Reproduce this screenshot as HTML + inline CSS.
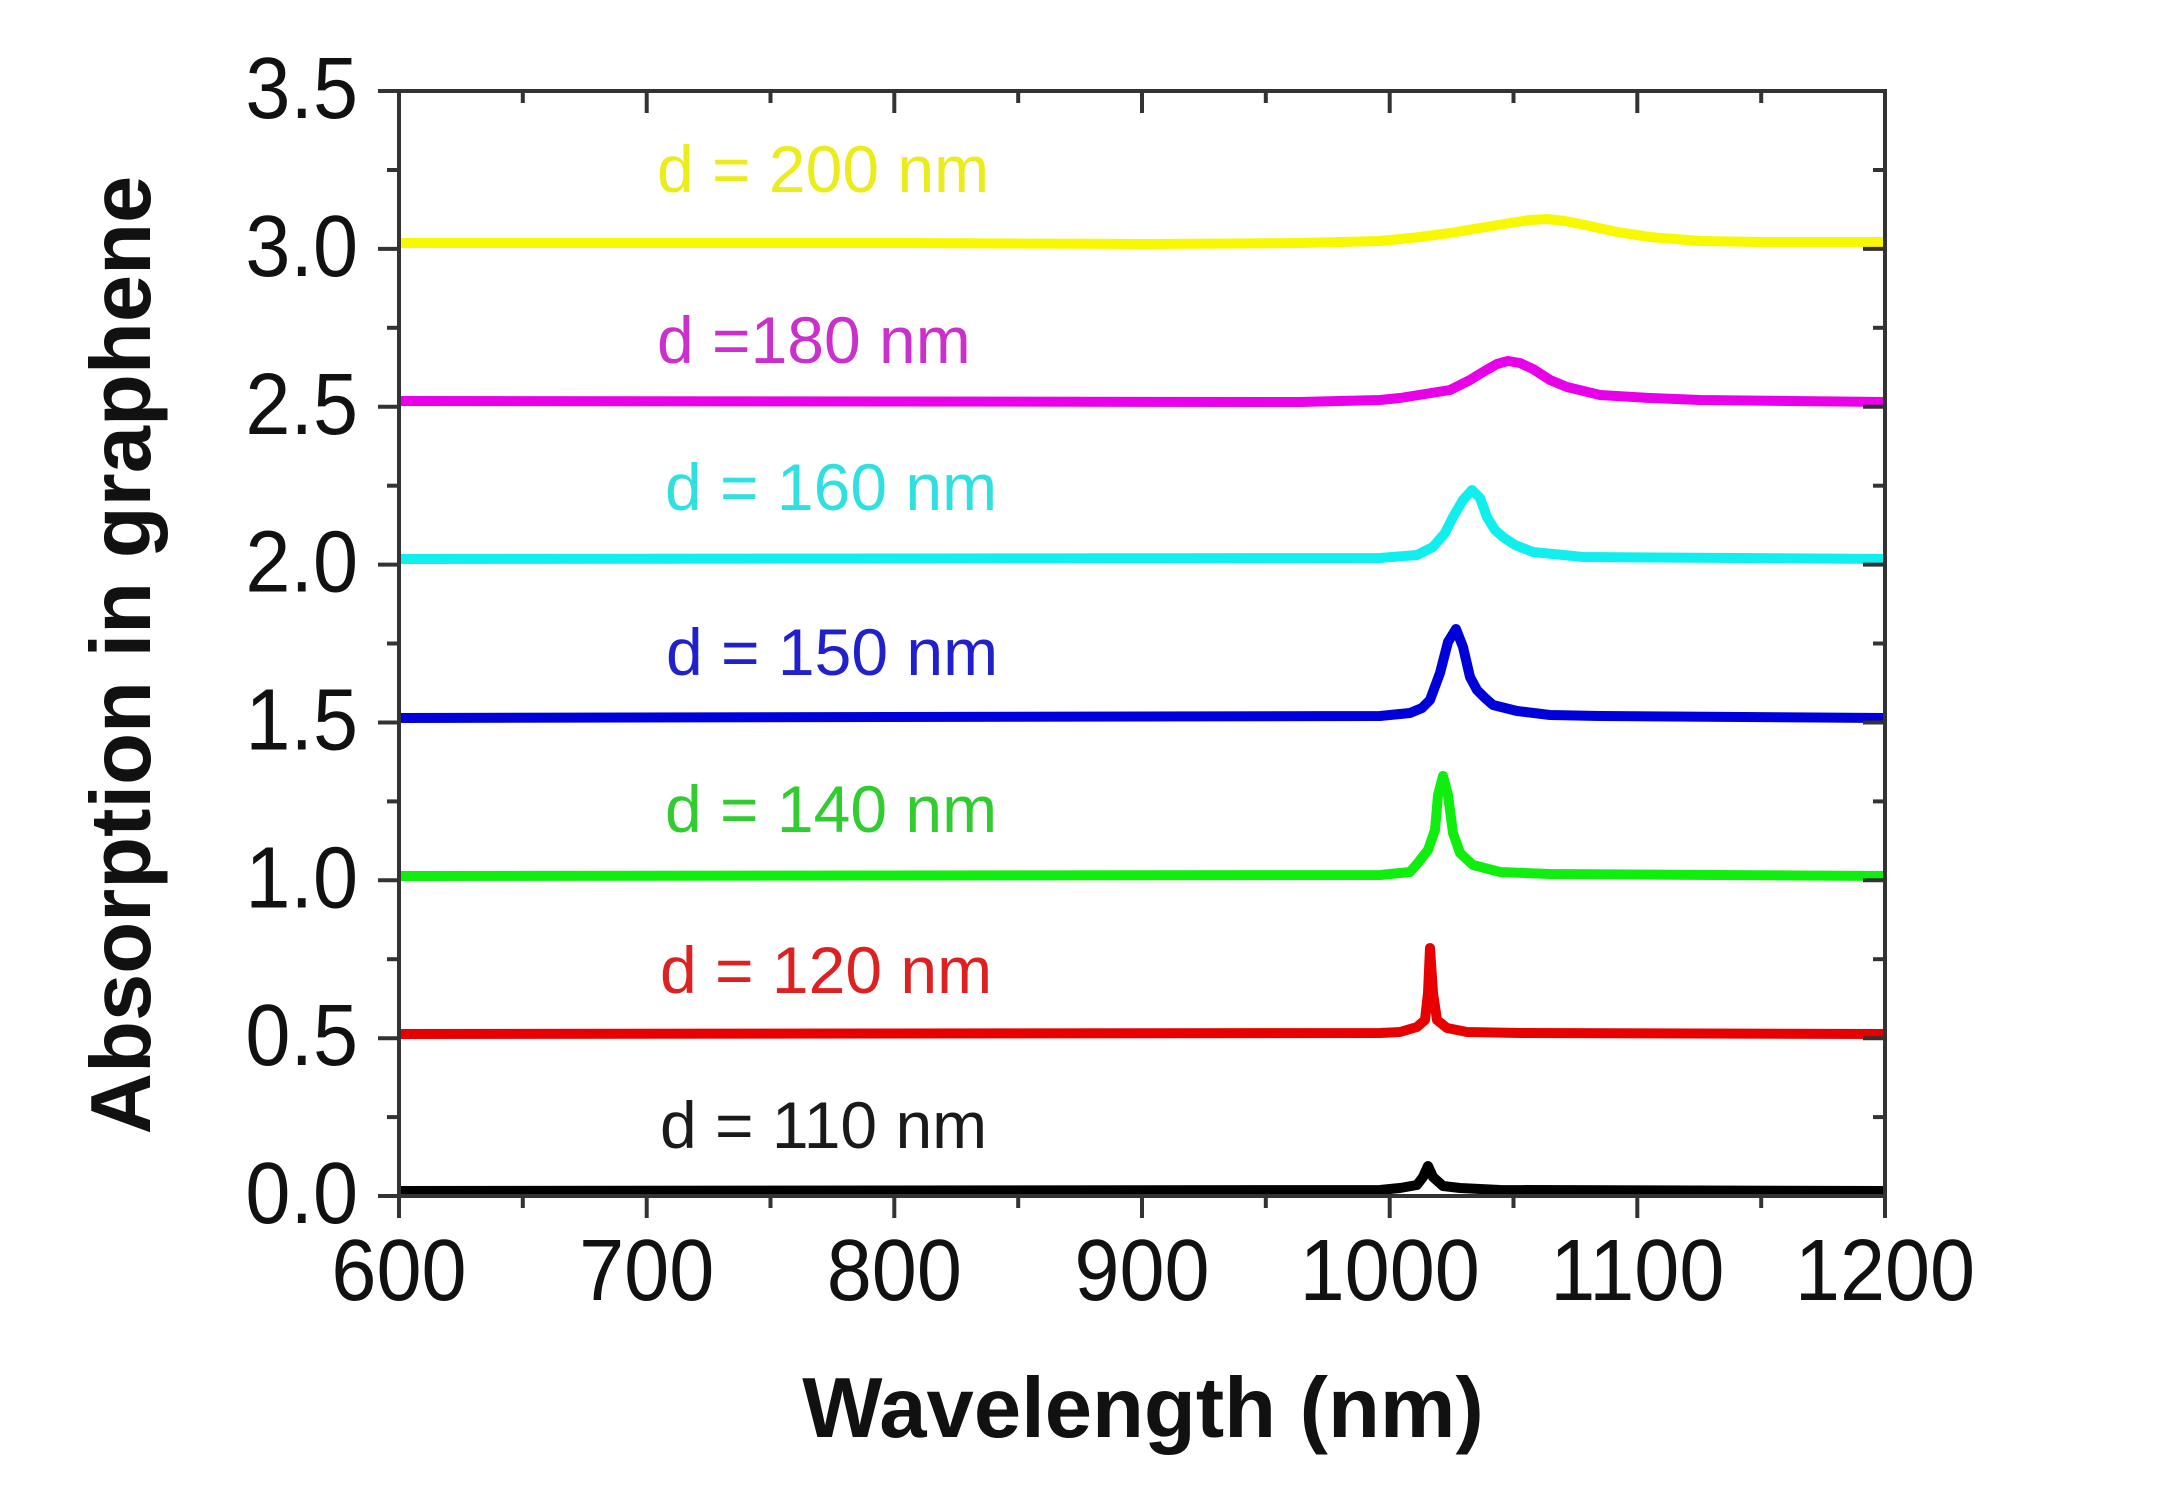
<!DOCTYPE html>
<html>
<head>
<meta charset="utf-8">
<style>
  html, body { margin:0; padding:0; background:#ffffff; }
  svg { display:block; }
  .tick { font-family: "Liberation Sans", Arial, sans-serif; font-size:81px; fill:#111; }
  .title { font-family: "Liberation Sans", Arial, sans-serif; font-size:85px; font-weight:bold; fill:#111; }
  .lab { font-family: "Liberation Sans", Arial, sans-serif; font-size:66px; }
</style>
</head>
<body>
<svg width="2180" height="1498" viewBox="0 0 2180 1498" xmlns="http://www.w3.org/2000/svg">
  <rect x="0" y="0" width="2180" height="1498" fill="#ffffff"/>

  <!-- data curves -->
  <g fill="none" stroke-width="10" stroke-linejoin="round" stroke-linecap="butt">
    <!-- d = 200 nm (yellow) -->
    <polyline stroke="#f8f800" points="399,243 900,243 1150,244 1300,243 1380,241 1420,237 1450,233 1480,228 1510,223 1530,220 1547,219 1565,221 1585,225 1617,232 1650,237 1700,241 1760,242 1885,242"/>
    <!-- d = 180 nm (magenta) -->
    <polyline stroke="#e800e8" points="399,401 1300,402 1380,400 1400,398 1450,390 1470,380 1483,372 1497,364 1508,361 1520,363 1533,369 1550,380 1567,387 1600,395 1650,398 1700,400 1885,402"/>
    <!-- d = 160 nm (cyan) -->
    <polyline stroke="#10eeee" points="399,559 1380,558 1417,555 1433,547 1445,533 1453,517 1463,500 1472,490 1480,498 1487,517 1495,530 1503,537 1515,545 1533,552 1583,557 1885,559"/>
    <!-- d = 150 nm (blue) -->
    <polyline stroke="#0000d8" points="399,718 1380,716 1410,713 1422,708 1430,700 1440,673 1448,642 1456,629 1463,647 1470,677 1477,690 1485,698 1493,705 1517,711 1550,715 1600,716 1885,718"/>
    <!-- d = 140 nm (green) -->
    <polyline stroke="#10ee10" points="399,876 1380,875 1410,872 1417,864 1428,850 1435,830 1438,795 1443,776 1448,795 1453,833 1460,853 1473,865 1500,872 1550,874 1885,876"/>
    <!-- d = 120 nm (red) -->
    <polyline stroke="#e80000" points="399,1034 1380,1033 1400,1032 1417,1027 1425,1020 1428,993 1430,948 1433,993 1437,1020 1447,1028 1467,1032 1520,1033 1885,1034"/>
    <!-- d = 110 nm (black) -->
    <polyline stroke="#000000" points="399,1191 1380,1190 1400,1188 1417,1185 1423,1177 1428,1166 1433,1177 1443,1186 1460,1188 1500,1190 1885,1191"/>
  </g>

  <!-- axes frame -->
  <g stroke="#333333" stroke-width="4" fill="none" stroke-linecap="square">
    <rect x="399" y="91" width="1486" height="1105"/>
  </g>

  <!-- ticks -->
  <g stroke="#333333" stroke-width="4" fill="none">
    <!-- bottom axis, outward -->
    <line x1="399" y1="1196" x2="399" y2="1218"/>
    <line x1="522.8" y1="1196" x2="522.8" y2="1208"/>
    <line x1="646.7" y1="1196" x2="646.7" y2="1218"/>
    <line x1="770.5" y1="1196" x2="770.5" y2="1208"/>
    <line x1="894.3" y1="1196" x2="894.3" y2="1218"/>
    <line x1="1018.2" y1="1196" x2="1018.2" y2="1208"/>
    <line x1="1142" y1="1196" x2="1142" y2="1218"/>
    <line x1="1265.8" y1="1196" x2="1265.8" y2="1208"/>
    <line x1="1389.7" y1="1196" x2="1389.7" y2="1218"/>
    <line x1="1513.5" y1="1196" x2="1513.5" y2="1208"/>
    <line x1="1637.3" y1="1196" x2="1637.3" y2="1218"/>
    <line x1="1761.2" y1="1196" x2="1761.2" y2="1208"/>
    <line x1="1885" y1="1196" x2="1885" y2="1218"/>
    <!-- top axis, inward -->
    <line x1="522.8" y1="91" x2="522.8" y2="103"/>
    <line x1="646.7" y1="91" x2="646.7" y2="113"/>
    <line x1="770.5" y1="91" x2="770.5" y2="103"/>
    <line x1="894.3" y1="91" x2="894.3" y2="113"/>
    <line x1="1018.2" y1="91" x2="1018.2" y2="103"/>
    <line x1="1142" y1="91" x2="1142" y2="113"/>
    <line x1="1265.8" y1="91" x2="1265.8" y2="103"/>
    <line x1="1389.7" y1="91" x2="1389.7" y2="113"/>
    <line x1="1513.5" y1="91" x2="1513.5" y2="103"/>
    <line x1="1637.3" y1="91" x2="1637.3" y2="113"/>
    <line x1="1761.2" y1="91" x2="1761.2" y2="103"/>
    <!-- left axis, outward -->
    <line x1="378" y1="1196" x2="399" y2="1196"/>
    <line x1="387" y1="1117.1" x2="399" y2="1117.1"/>
    <line x1="378" y1="1038.2" x2="399" y2="1038.2"/>
    <line x1="387" y1="959.2" x2="399" y2="959.2"/>
    <line x1="378" y1="880.3" x2="399" y2="880.3"/>
    <line x1="387" y1="801.4" x2="399" y2="801.4"/>
    <line x1="378" y1="722.5" x2="399" y2="722.5"/>
    <line x1="387" y1="643.5" x2="399" y2="643.5"/>
    <line x1="378" y1="564.6" x2="399" y2="564.6"/>
    <line x1="387" y1="485.7" x2="399" y2="485.7"/>
    <line x1="378" y1="406.8" x2="399" y2="406.8"/>
    <line x1="387" y1="327.8" x2="399" y2="327.8"/>
    <line x1="378" y1="248.9" x2="399" y2="248.9"/>
    <line x1="387" y1="170" x2="399" y2="170"/>
    <line x1="378" y1="91" x2="399" y2="91"/>
    <!-- right axis, inward -->
    <line x1="1873" y1="1117.1" x2="1885" y2="1117.1"/>
    <line x1="1863" y1="1038.2" x2="1885" y2="1038.2"/>
    <line x1="1873" y1="959.2" x2="1885" y2="959.2"/>
    <line x1="1863" y1="880.3" x2="1885" y2="880.3"/>
    <line x1="1873" y1="801.4" x2="1885" y2="801.4"/>
    <line x1="1863" y1="722.5" x2="1885" y2="722.5"/>
    <line x1="1873" y1="643.5" x2="1885" y2="643.5"/>
    <line x1="1863" y1="564.6" x2="1885" y2="564.6"/>
    <line x1="1873" y1="485.7" x2="1885" y2="485.7"/>
    <line x1="1863" y1="406.8" x2="1885" y2="406.8"/>
    <line x1="1873" y1="327.8" x2="1885" y2="327.8"/>
    <line x1="1863" y1="248.9" x2="1885" y2="248.9"/>
    <line x1="1873" y1="170" x2="1885" y2="170"/>
  </g>

  <!-- Y tick labels -->
  <g class="tick" text-anchor="end">
    <text transform="translate(358,1223) scale(1,1.08)">0.0</text>
    <text transform="translate(358,1065.2) scale(1,1.08)">0.5</text>
    <text transform="translate(358,907.3) scale(1,1.08)">1.0</text>
    <text transform="translate(358,749.5) scale(1,1.08)">1.5</text>
    <text transform="translate(358,591.6) scale(1,1.08)">2.0</text>
    <text transform="translate(358,433.8) scale(1,1.08)">2.5</text>
    <text transform="translate(358,275.9) scale(1,1.08)">3.0</text>
    <text transform="translate(358,118) scale(1,1.08)">3.5</text>
  </g>

  <!-- X tick labels -->
  <g class="tick" text-anchor="middle">
    <text transform="translate(399,1300) scale(1,1.08)">600</text>
    <text transform="translate(646.7,1300) scale(1,1.08)">700</text>
    <text transform="translate(894.3,1300) scale(1,1.08)">800</text>
    <text transform="translate(1142,1300) scale(1,1.08)">900</text>
    <text transform="translate(1389.7,1300) scale(1,1.08)">1000</text>
    <text transform="translate(1637.3,1300) scale(1,1.08)">1100</text>
    <text transform="translate(1885,1300) scale(1,1.08)">1200</text>
  </g>

  <!-- Axis titles -->
  <text class="title" x="1143" y="1437" text-anchor="middle">Wavelength (nm)</text>
  <text class="title" transform="translate(150,655) rotate(-90)" text-anchor="middle">Absorption in graphene</text>

  <!-- curve labels -->
  <g class="lab">
    <text x="657" y="192" fill="#ecec1c">d = 200 nm</text>
    <text x="657" y="363" fill="#cc30cc">d =180 nm</text>
    <text x="665" y="510" fill="#30e0e0">d = 160 nm</text>
    <text x="666" y="675" fill="#2020cc">d = 150 nm</text>
    <text x="665" y="832" fill="#30cc30">d = 140 nm</text>
    <text x="660" y="993" fill="#dd2020">d = 120 nm</text>
    <text x="660" y="1148" fill="#1a1a1a">d = 110 nm</text>
  </g>
</svg>
</body>
</html>
